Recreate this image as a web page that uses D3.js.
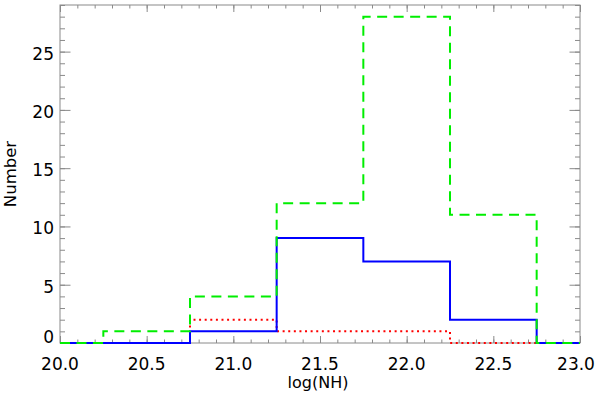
<!DOCTYPE html>
<html>
<head>
<meta charset="utf-8">
<script src="https://cdn.jsdelivr.net/npm/d3@7"></script>
<style>
  html, body { margin: 0; padding: 0; background: #fff; }
  svg { display: block; }
  text { font-family: "DejaVu Sans", sans-serif; fill: #000; }
</style>
</head>
<body>
<svg id="chart" width="600" height="397"></svg>
<script>
// Bin centers (log NH) and counts — IDL psym=10 style histogram
const binCenters = [20.0, 20.5, 21.0, 21.5, 22.0, 22.5, 23.0];
const greenCounts = [0, 1, 4, 12, 28, 11, 0];   // dashed green
const blueCounts  = [0, 0, 1, 9, 7, 2, 0];      // solid blue
const redCounts   = [0, 0, 2, 1, 1, 0, 0];      // dotted red

const xMajorTicks = [20.0, 20.5, 21.0, 21.5, 22.0, 22.5, 23.0];
const xTickLabels = ["20.0", "20.5", "21.0", "21.5", "22.0", "22.5", "23.0"];
const yMajorTicks = [0, 5, 10, 15, 20, 25];
const yTickLabels = ["0", "5", "10", "15", "20", "25"];

const xTitle = "log(NH)";
const yTitle = "Number";

const svg = d3.select("#chart");
const pL = 60, pR = 580, pT = 5, pB = 343;

const x = d3.scaleLinear().domain([20.0, 23.0]).range([pL, pR]);
const y = d3.scaleLinear().domain([0, 29]).range([pB, pT]);

const axisColor = "#8a8a8a";
const xMinor = d3.range(20.0, 23.0001, 0.1).map(v => +v.toFixed(2));
const yMinor = d3.range(0, 30, 1);

const gAx = svg.append("g");
function addTicks(g, axisGen) {
  g.call(axisGen);
  g.select(".domain").remove();
  g.selectAll("line").attr("stroke", axisColor).attr("stroke-width", 1);
  g.selectAll("text").remove();
}
addTicks(gAx.append("g").attr("transform", `translate(0,${pB})`),
  d3.axisBottom(x).tickValues(xMinor).tickSize(-3.5).tickFormat(""));
addTicks(gAx.append("g").attr("transform", `translate(0,${pB})`),
  d3.axisBottom(x).tickValues(xMajorTicks).tickSize(-7).tickFormat(""));
addTicks(gAx.append("g").attr("transform", `translate(0,${pT})`),
  d3.axisTop(x).tickValues(xMinor).tickSize(-3.5).tickFormat(""));
addTicks(gAx.append("g").attr("transform", `translate(0,${pT})`),
  d3.axisTop(x).tickValues(xMajorTicks).tickSize(-7).tickFormat(""));
addTicks(gAx.append("g").attr("transform", `translate(${pL},0)`),
  d3.axisLeft(y).tickValues(yMinor).tickSize(-5).tickFormat(""));
addTicks(gAx.append("g").attr("transform", `translate(${pL},0)`),
  d3.axisLeft(y).tickValues(yMajorTicks).tickSize(-10.5).tickFormat(""));
addTicks(gAx.append("g").attr("transform", `translate(${pR},0)`),
  d3.axisRight(y).tickValues(yMinor).tickSize(-5).tickFormat(""));
addTicks(gAx.append("g").attr("transform", `translate(${pR},0)`),
  d3.axisRight(y).tickValues(yMajorTicks).tickSize(-10.5).tickFormat(""));

// border
svg.append("rect")
  .attr("x", pL).attr("y", pT)
  .attr("width", pR - pL).attr("height", pB - pT)
  .attr("fill", "none").attr("stroke", axisColor).attr("stroke-width", 1);

// tick labels
svg.append("g").selectAll("text").data(xMajorTicks).join("text")
  .attr("x", (d, i) => x(d) - (i === xMajorTicks.length - 1 ? 4 : 0))
  .attr("y", 369.5)
  .attr("text-anchor", "middle")
  .attr("font-size", 17)
  .text((d, i) => xTickLabels[i]);

svg.append("g").selectAll("text").data(yMajorTicks).join("text")
  .attr("x", 54)
  .attr("y", d => Math.min(y(d) + 8, pB))
  .attr("text-anchor", "end")
  .attr("font-size", 17)
  .text((d, i) => yTickLabels[i]);

// titles
svg.append("text")
  .attr("x", 318).attr("y", 388)
  .attr("text-anchor", "middle").attr("font-size", 16)
  .text(xTitle);
svg.append("text")
  .attr("transform", `translate(16,174) rotate(-90)`)
  .attr("text-anchor", "middle").attr("font-size", 16.5)
  .text(yTitle);

// histograms
const line = d3.line().curve(d3.curveStep).x(d => x(d[0])).y(d => y(d[1]));
function hist(counts) { return binCenters.map((c, i) => [c, counts[i]]); }

const plot = svg.append("g");
plot.append("path").attr("d", line(hist(redCounts)))
  .attr("fill", "none").attr("stroke", "#ff0000").attr("stroke-width", 2)
  .attr("stroke-dasharray", "2,3.6");
plot.append("path").attr("d", line(hist(blueCounts)))
  .attr("fill", "none").attr("stroke", "#0000ff").attr("stroke-width", 2);
plot.append("path").attr("d", line(hist(greenCounts)))
  .attr("fill", "none").attr("stroke", "#00ee00").attr("stroke-width", 2)
  .attr("stroke-dasharray", "10,6.5");
</script>
</body>
</html>
